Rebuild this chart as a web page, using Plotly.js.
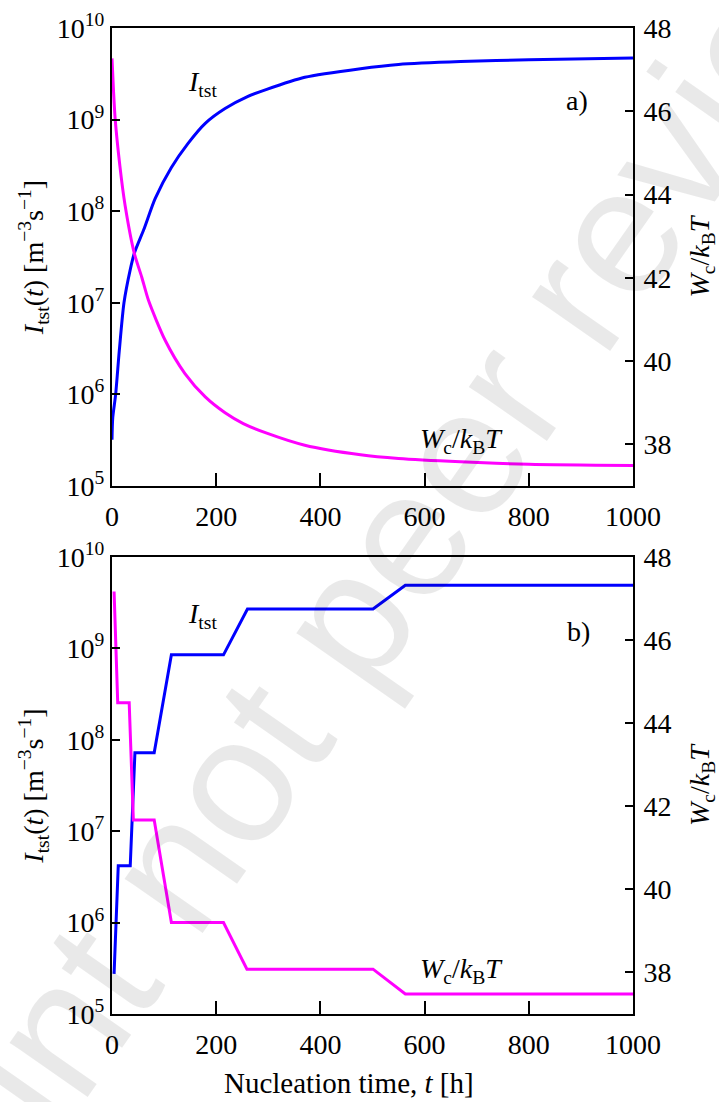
<!DOCTYPE html>
<html>
<head>
<meta charset="utf-8">
<script src="https://cdn.plot.ly/plotly-3.0.1.min.js"></script>
<style>html,body{margin:0;padding:0;background:#fff;}#chart{width:719px;height:1102px;}</style>
</head>
<body>
<div id="chart"></div>
<script>
// ---- Panel a) continuous time dependence ----
const tA_I = [0, 1.5, 7, 14, 23, 35, 43, 61, 83, 114, 146, 179, 217, 260, 297, 370, 477, 550, 669, 800, 1000];
const I_A  = [3.2e5, 5.6e5, 1.0e6, 3.0e6, 1.0e7, 2.3e7, 3.5e7, 6.3e7, 1.38e8, 3.0e8, 5.5e8, 9.1e8, 1.32e9, 1.78e9, 2.14e9, 2.9e9, 3.6e9, 4.0e9, 4.3e9, 4.5e9, 4.7e9];
const tA_W = [0, 3, 6, 15, 25, 43, 57, 70, 102, 140, 179, 217, 252, 297, 370, 477, 550, 669, 800, 1000];
const W_A  = [47.27, 46.47, 45.83, 44.7, 43.75, 42.58, 42.02, 41.46, 40.5, 39.7, 39.14, 38.76, 38.5, 38.27, 37.98, 37.75, 37.66, 37.58, 37.52, 37.49];

// ---- Panel b) stepwise time dependence ----
const tB_I = [4, 12, 35, 44, 81, 114, 214, 260, 501, 563, 1000];
const I_B  = [2.75e5, 4.2e6, 4.2e6, 7.2e7, 7.2e7, 8.5e8, 8.5e8, 2.7e9, 2.7e9, 4.9e9, 4.9e9];
const tB_W = [4, 11, 33, 41, 81, 114, 214, 259, 501, 563, 1000];
const W_B  = [47.17, 44.49, 44.49, 41.67, 41.67, 39.2, 39.2, 38.08, 38.08, 37.48, 37.48];

// ---- Tick labels ----
const logTickVals = [1e5, 1e6, 1e7, 1e8, 1e9, 1e10];
const logTickText = ['10<sup>5</sup>', '10<sup>6</sup>', '10<sup>7</sup>', '10<sup>8</sup>', '10<sup>9</sup>', '10<sup>10</sup>'];
const wTickVals = [38, 40, 42, 44, 46, 48];
const xTickVals = [0, 200, 400, 600, 800, 1000];

const FONT = 'Liberation Serif';
const BLUE = '#0000ff', MAG = '#ff00ff';

const leftTitle = '<i>I</i><sub>tst</sub>(<i>t</i>) [m<sup>\u22123</sup>s<sup>\u22121</sup>]';
const rightTitle = '<i>W</i><sub>c</sub>/<i>k</i><sub>B</sub><i>T</i>';
const xTitle = 'Nucleation time, <i>t</i> [h]';

const traces = [
  {x: tA_I, y: I_A, xaxis: 'x', yaxis: 'y', mode: 'lines', line: {color: BLUE, width: 3, shape: 'spline', smoothing: 0.7}, name: 'I_tst a'},
  {x: tA_W, y: W_A, xaxis: 'x', yaxis: 'y2', mode: 'lines', line: {color: MAG, width: 3, shape: 'spline', smoothing: 0.7}, name: 'Wc a'},
  {x: tB_I, y: I_B, xaxis: 'x2', yaxis: 'y3', mode: 'lines', line: {color: BLUE, width: 3}, name: 'I_tst b'},
  {x: tB_W, y: W_B, xaxis: 'x2', yaxis: 'y4', mode: 'lines', line: {color: MAG, width: 3}, name: 'Wc b'}
];

function xAxis(anchor) {
  return {
    domain: [0, 1], anchor: anchor, range: [0, 1000],
    tickvals: xTickVals, ticks: 'inside', ticklen: 13, tickwidth: 2, tickcolor: '#000',
    showline: true, linewidth: 2, linecolor: '#000', mirror: true,
    showgrid: false, zeroline: false,
    tickfont: {family: FONT, size: 28, color: '#000'}, ticklabelstandoff: 4
  };
}
function logAxis(domain, anchor) {
  return {
    domain: domain, anchor: anchor, type: 'log', range: [5, 10],
    tickvals: logTickVals, ticktext: logTickText,
    ticks: 'inside', ticklen: 8, tickwidth: 2, tickcolor: '#000',
    showline: true, linewidth: 2, linecolor: '#000',
    showgrid: false, zeroline: false,
    tickfont: {family: FONT, size: 28, color: '#000'}, ticklabelstandoff: 0,
    title: {text: leftTitle, font: {family: FONT, size: 28, color: '#000'}, standoff: 5}
  };
}
function wAxis(over, anchor) {
  return {
    overlaying: over, anchor: anchor, side: 'right', range: [37, 48],
    tickvals: wTickVals, ticks: 'inside', ticklen: 8, tickwidth: 2, tickcolor: '#000',
    showline: true, linewidth: 2, linecolor: '#000',
    showgrid: false, zeroline: false,
    tickfont: {family: FONT, size: 28, color: '#000'}, ticklabelstandoff: 3,
    title: {text: rightTitle, font: {family: FONT, size: 28, color: '#000'}, standoff: 21}
  };
}

const annFont = {family: FONT, size: 28, color: '#000'};
const layout = {
  width: 719, height: 1102,
  margin: {l: 112, r: 86, t: 28, b: 88},
  paper_bgcolor: '#fff', plot_bgcolor: 'rgba(0,0,0,0)',
  showlegend: false,
  xaxis: xAxis('y'),
  yaxis: logAxis([0.5355, 1], 'x'),
  yaxis2: wAxis('y', 'x'),
  xaxis2: xAxis('y3'),
  yaxis3: logAxis([0, 0.4635], 'x2'),
  yaxis4: wAxis('y3', 'x2'),
  annotations: [
    {text: 'Preprint not peer reviewed', xref: 'paper', yref: 'paper', x: 0.476, y: 0.42,
     xanchor: 'center', yanchor: 'middle',
     showarrow: false, textangle: -55, font: {family: 'Liberation Sans', size: 180, color: 'rgba(0,0,0,0.085)'}},
    {text: xTitle, xref: 'paper', yref: 'paper', x: 0.455, y: -0.070, xanchor: 'center', yanchor: 'middle',
     showarrow: false, font: {family: FONT, size: 29, color: '#000'}},
    {text: '<i>I</i><sub>tst</sub>', xref: 'x', yref: 'y2', x: 173, y: 46.67, showarrow: false, font: annFont},
    {text: 'a)', xref: 'x', yref: 'y2', x: 893, y: 46.25, showarrow: false, font: annFont},
    {text: rightTitle, xref: 'x', yref: 'y2', x: 671, y: 38.1, showarrow: false, font: annFont},
    {text: '<i>I</i><sub>tst</sub>', xref: 'x2', yref: 'y4', x: 173, y: 46.58, showarrow: false, font: annFont},
    {text: 'b)', xref: 'x2', yref: 'y4', x: 895, y: 46.2, showarrow: false, font: annFont},
    {text: rightTitle, xref: 'x2', yref: 'y4', x: 671, y: 38.05, showarrow: false, font: annFont}
  ]
};

Plotly.newPlot('chart', traces, layout, {displayModeBar: false, staticPlot: true});
</script>
</body>
</html>
